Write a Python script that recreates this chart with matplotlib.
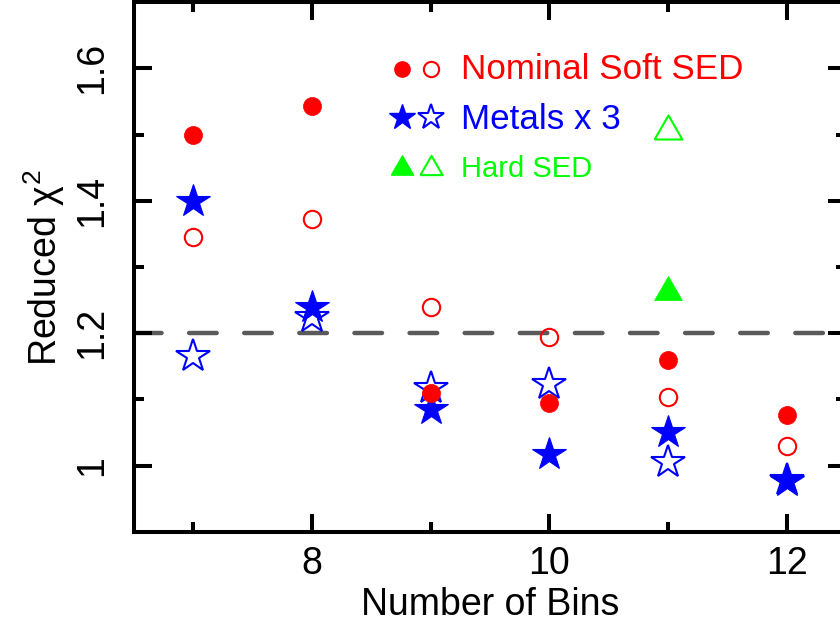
import matplotlib
matplotlib.use("Agg")
import matplotlib.pyplot as plt
from matplotlib.ticker import FixedLocator

plt.rcParams["font.family"] = ["Liberation Sans", "DejaVu Sans"]
plt.rcParams["mathtext.fontset"] = "custom"
plt.rcParams["mathtext.rm"] = "Liberation Sans"
plt.rcParams["mathtext.it"] = "Liberation Sans"

# Reduced chi-square versus number of bins
bins = [7, 8, 9, 10, 11, 12]
nominal_filled = [1.500, 1.543, 1.110, 1.094, 1.160, 1.077]
nominal_open = [1.345, 1.373, 1.240, 1.195, 1.104, 1.030]
metals_filled = [1.400, 1.240, 1.085, 1.017, 1.051, 0.977]
metals_open = [1.165, 1.225, 1.118, 1.124, 1.005, 0.979]
hard_bins = [11]
hard_filled = [1.268]
hard_open = [1.512]
threshold = 1.2

RED, BLUE, GREEN = "#ff0000", "#0000ff", "#00ff00"
# equilateral triangle marker
TRI = [(-1, -0.866), (1, -0.866), (0, 0.866), (-1, -0.866)]

fig = plt.figure(figsize=(8.4, 6.26), dpi=100)
ax = fig.add_axes([134 / 840, 94 / 626, 712 / 840, 530 / 626])

ax.axhline(threshold, color="#5a5a5a", lw=3.2, dashes=(6.2, 6.2),
           dash_capstyle="round", zorder=1)

ax.plot(bins, metals_filled, ls="none", marker="*", ms=25, mfc=BLUE,
        mec=BLUE, mew=0.8, zorder=3)
ax.plot(bins, metals_open, ls="none", marker="*", ms=25, mfc="none",
        mec=BLUE, mew=1.5, zorder=3)
ax.plot(bins, nominal_filled, ls="none", marker="o", ms=13, mfc=RED,
        mec=RED, mew=0.5, zorder=4)
ax.plot(bins, nominal_open, ls="none", marker="o", ms=12.5, mfc="none",
        mec=RED, mew=1.5, zorder=4)
ax.plot(hard_bins, hard_filled, ls="none", marker=TRI, ms=20, mfc=GREEN,
        mec=GREEN, mew=0.5, zorder=4)
ax.plot(hard_bins, hard_open, ls="none", marker=TRI, ms=20, mfc="none",
        mec=GREEN, mew=1.5, zorder=4)

ax.set_xlim(6.5, 12.5)
ax.set_ylim(0.9, 1.7)
ax.xaxis.set_major_locator(FixedLocator([8, 10, 12]))
ax.xaxis.set_minor_locator(FixedLocator([7, 9, 11]))
ax.yaxis.set_major_locator(FixedLocator([1.0, 1.2, 1.4, 1.6]))
ax.yaxis.set_minor_locator(FixedLocator([1.1, 1.3, 1.5]))
ax.set_yticklabels(["1", "1.2", "1.4", "1.6"], rotation=90, va="center")

for s in ax.spines.values():
    s.set_linewidth(2.9)
ax.tick_params(which="both", direction="in", top=True, right=True,
               width=2.9, labelsize=27)
ax.tick_params(which="major", length=13)
ax.tick_params(which="minor", length=7)
ax.tick_params(axis="x", pad=10)
ax.tick_params(axis="y", pad=17)

ax.set_xlabel("Number of Bins", fontsize=27, labelpad=4)
ax.set_ylabel(r"Reduced $\chi^2$", fontsize=27, labelpad=5.5)

# key in the upper middle of the panel
tr = ax.transAxes
key = [
    (0.8736, "o", 11, 11, 0.8547, "Nominal Soft SED", RED, 25.2),
    (0.783, "*", 19, 19, 0.7604, "Metals x 3", BLUE, 25.2),
    (0.6925, TRI, 16, 16, 0.6698, "Hard SED", GREEN, 21),
]
for ym, mk, ms1, ms2, yt, label, col, fs in key:
    ax.plot([0.3764], [ym], transform=tr, marker=mk, ms=ms1, mfc=col,
            mec=col, ls="none", clip_on=False)
    ax.plot([0.4171], [ym], transform=tr, marker=mk, ms=ms2, mfc="none",
            mec=col, mew=1.5, ls="none", clip_on=False)
    ax.text(0.4593, yt, label, transform=tr, color=col, fontsize=fs,
            va="baseline", ha="left")

fig.savefig("out.png", dpi=100)
